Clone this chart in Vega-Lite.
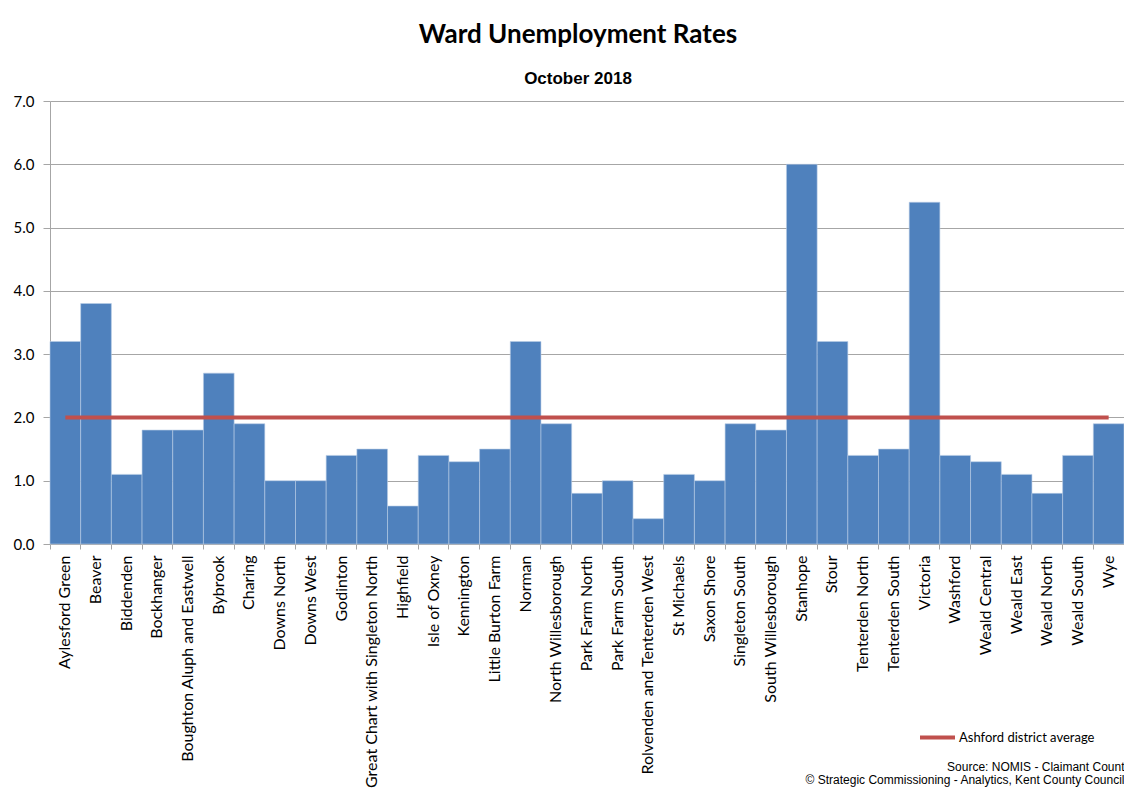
{
  "$schema": "https://vega.github.io/schema/vega-lite/v6.json",
  "width": 1074,
  "height": 443,
  "autosize": {"type": "none"},
  "padding": {"left": 50, "top": 101, "right": 0, "bottom": 255},
  "background": "white",
  "title": {
    "text": "Ward Unemployment Rates",
    "subtitle": "October 2018",
    "anchor": "middle",
    "frame": "group",
    "dx": -9,
    "font": "Lato",
    "fontSize": 26,
    "fontWeight": "bold",
    "color": "black",
    "subtitleFont": "Liberation Sans",
    "subtitleFontSize": 17,
    "subtitleFontWeight": "bold",
    "subtitleColor": "black",
    "subtitlePadding": 22.5,
    "offset": 7.5
  },
  "config": {
    "view": {"stroke": null},
    "axis": {
      "labelFont": "Lato",
      "labelFontSize": 15,
      "labelColor": "black",
      "domainColor": "#A6A6A6",
      "tickColor": "#A6A6A6",
      "gridColor": "#A6A6A6"
    }
  },
  "data": {
    "values": [
      {"ward": "Aylesford Green", "rate": 3.2, "avg": 2.0},
      {"ward": "Beaver", "rate": 3.8, "avg": 2.0},
      {"ward": "Biddenden", "rate": 1.1, "avg": 2.0},
      {"ward": "Bockhanger", "rate": 1.8, "avg": 2.0},
      {"ward": "Boughton Aluph and Eastwell", "rate": 1.8, "avg": 2.0},
      {"ward": "Bybrook", "rate": 2.7, "avg": 2.0},
      {"ward": "Charing", "rate": 1.9, "avg": 2.0},
      {"ward": "Downs North", "rate": 1.0, "avg": 2.0},
      {"ward": "Downs West", "rate": 1.0, "avg": 2.0},
      {"ward": "Godinton", "rate": 1.4, "avg": 2.0},
      {"ward": "Great Chart with Singleton North", "rate": 1.5, "avg": 2.0},
      {"ward": "Highfield", "rate": 0.6, "avg": 2.0},
      {"ward": "Isle of Oxney", "rate": 1.4, "avg": 2.0},
      {"ward": "Kennington", "rate": 1.3, "avg": 2.0},
      {"ward": "Little Burton Farm", "rate": 1.5, "avg": 2.0},
      {"ward": "Norman", "rate": 3.2, "avg": 2.0},
      {"ward": "North Willesborough", "rate": 1.9, "avg": 2.0},
      {"ward": "Park Farm North", "rate": 0.8, "avg": 2.0},
      {"ward": "Park Farm South", "rate": 1.0, "avg": 2.0},
      {"ward": "Rolvenden and Tenterden West", "rate": 0.4, "avg": 2.0},
      {"ward": "St Michaels", "rate": 1.1, "avg": 2.0},
      {"ward": "Saxon Shore", "rate": 1.0, "avg": 2.0},
      {"ward": "Singleton South", "rate": 1.9, "avg": 2.0},
      {"ward": "South Willesborough", "rate": 1.8, "avg": 2.0},
      {"ward": "Stanhope", "rate": 6.0, "avg": 2.0},
      {"ward": "Stour", "rate": 3.2, "avg": 2.0},
      {"ward": "Tenterden North", "rate": 1.4, "avg": 2.0},
      {"ward": "Tenterden South", "rate": 1.5, "avg": 2.0},
      {"ward": "Victoria", "rate": 5.4, "avg": 2.0},
      {"ward": "Washford", "rate": 1.4, "avg": 2.0},
      {"ward": "Weald Central", "rate": 1.3, "avg": 2.0},
      {"ward": "Weald East", "rate": 1.1, "avg": 2.0},
      {"ward": "Weald North", "rate": 0.8, "avg": 2.0},
      {"ward": "Weald South", "rate": 1.4, "avg": 2.0},
      {"ward": "Wye", "rate": 1.9, "avg": 2.0}
    ]
  },
  "encoding": {
    "x": {
      "field": "ward",
      "type": "nominal",
      "sort": null,
      "scale": {"paddingInner": 0, "paddingOuter": 0},
      "axis": {
        "labelAngle": -90,
        "labelAlign": "right",
        "labelBaseline": "middle",
        "labelFontSize": 16,
        "bandPosition": 0,
        "labelPadding": 6,
        "tickSize": 5,
        "labelLimit": 300,
        "title": ["Source: NOMIS - Claimant Count", "© Strategic Commissioning - Analytics, Kent County Council"],
        "titleFont": "Liberation Sans",
        "titleFontSize": 12,
        "titleFontWeight": "normal",
        "titleColor": "black",
        "titleAlign": "right",
        "titleAnchor": "end",
        "titleBaseline": "top",
        "titleLineHeight": 13,
        "titleX": 1074,
        "titleY": 217
      }
    }
  },
  "layer": [
    {
      "mark": {"type": "bar", "color": "#4F81BD", "stroke": "#B9CDE5", "strokeWidth": 0.6},
      "encoding": {
        "y": {
          "field": "rate",
          "type": "quantitative",
          "scale": {"domain": [0, 7], "nice": false},
          "axis": {
            "values": [0, 1, 2, 3, 4, 5, 6, 7],
            "format": ".1f",
            "title": null,
            "tickSize": 7,
            "labelPadding": 9,
            "grid": true
          }
        }
      }
    },
    {
      "mark": {"type": "line", "strokeWidth": 4},
      "encoding": {
        "y": {"field": "avg", "type": "quantitative"},
        "stroke": {
          "datum": "Ashford district average",
          "type": "nominal",
          "scale": {"range": ["#C0504D"]},
          "legend": {
            "title": null,
            "orient": "none",
            "legendX": 868,
            "legendY": 617,
            "symbolType": "stroke",
            "symbolSize": 1225,
            "symbolStrokeWidth": 4,
            "labelFont": "Lato",
            "labelFontSize": 13,
            "labelColor": "black",
            "labelOffset": 2
          }
        }
      }
    }
  ]
}
